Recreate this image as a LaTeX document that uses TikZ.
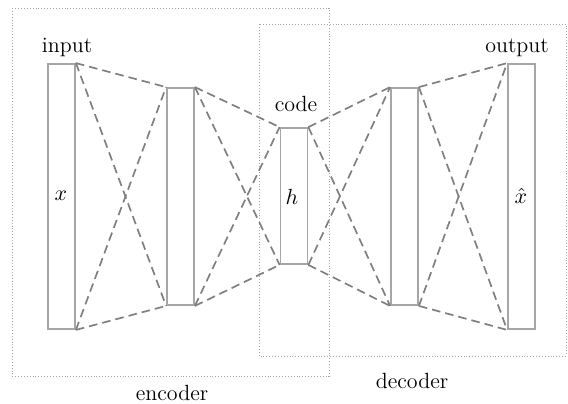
\documentclass[tikz,border=0pt]{standalone}
\usetikzlibrary{calc}
\begin{document}
\begin{tikzpicture}[x=0.5pt,y=-0.5pt,
  layer/.style={draw=gray!70, line width=0.9pt, fill=white, inner sep=0pt,
    minimum width=13.5pt},
  link/.style={draw=gray, line width=0.85pt, dash pattern=on 4.3pt off 2.5pt},
  group/.style={draw=gray!70, line width=0.45pt, densely dotted},
  lbl/.style={font=\fontsize{11}{13}\selectfont, inner sep=0pt}]
\useasboundingbox (0,0) rectangle (568,403);

% dotted frames of the two halves
\draw[group] (12,8) rectangle (329,376);
\draw[group] (259,24) rectangle (566,356);

% layers
\node[layer, minimum height=132.5pt] (in)   at (61.5,196.5) {};
\node[layer, minimum height=108.5pt] (enc)  at (180.5,196.5) {};
\node[layer, minimum height=68pt]    (code) at (294,196) {};
\node[layer, minimum height=108.5pt] (dec)  at (404.5,196.5) {};
\node[layer, minimum height=132.5pt] (out)  at (521.5,196.5) {};

% symbols inside the layers
\node[lbl] (xs) at (61,196) {$x$};
\node[lbl] (hs) at (292,197) {$h$};
\node[lbl] (xh) at (521,196) {$\hat{x}$};

% connections between neighbouring layers
\foreach \a/\b in {in/enc, enc/code, code/dec, dec/out}{
  \draw[link] (\a.north east) -- (\b.north west);
  \draw[link] (\a.north east) -- (\b.south west);
  \draw[link] (\a.south east) -- (\b.north west);
  \draw[link] (\a.south east) -- (\b.south west);
}

% labels
\node[lbl] (lin)   at (67,47)   {input};
\node[lbl] (lcode) at (296,104) {code};
\node[lbl] (lout)  at (517,48)  {output};
\node[lbl] (lenc)  at (172,393) {encoder};
\node[lbl] (ldec)  at (412,381) {decoder};
\end{tikzpicture}
\end{document}
